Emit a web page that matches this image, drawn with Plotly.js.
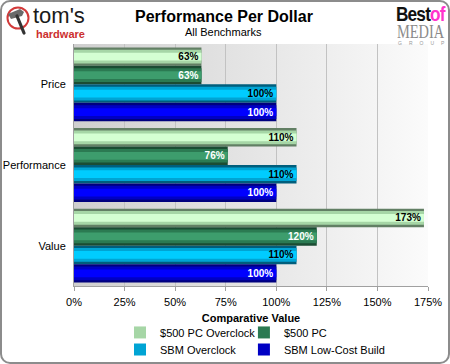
<!DOCTYPE html>
<html><head><meta charset="utf-8">
<script src="https://cdn.plot.ly/plotly-3.0.1.min.js"></script>
<style>
html,body{margin:0;padding:0;background:#fff;width:450px;height:364px;overflow:hidden;font-family:"Liberation Sans",Arial,sans-serif;}
#bg{position:absolute;left:74px;top:44px;width:354px;height:242px;background:linear-gradient(to right,#cfcfcf,#fbfbfb);z-index:0;}
#chart{position:absolute;left:0;top:0;width:450px;height:364px;z-index:1;}
#frame{position:absolute;left:0;top:0;width:446px;height:360px;border:2px solid #8c8c8c;border-radius:10px;z-index:3;pointer-events:none;}
.logo{position:absolute;z-index:2;white-space:nowrap;}
</style></head>
<body>
<div id="bg"></div>
<div id="chart"></div>
<div id="frame"></div>
<svg class="logo" style="left:0;top:0" width="36" height="40" viewBox="0 0 36 40">
  <circle cx="18" cy="18" r="10.5" fill="none" stroke="#d23a3a" stroke-width="2"/>
  <path d="M8,14 L20,9 L24,12 L22,16 L11,19 Z" fill="#6a6a6a"/>
  <line x1="17" y1="16" x2="24" y2="33" stroke="#333" stroke-width="3.2" stroke-linecap="round"/>
</svg>
<div class="logo" style="left:33px;top:6px;font-size:22px;color:#1a1a1a;line-height:19px;">tom's</div>
<div class="logo" style="left:36px;top:29px;font-size:11px;font-weight:bold;color:#cc2f2f;line-height:10px;">hardware</div>
<div class="logo" style="left:396px;top:6px;font-family:'Liberation Sans Narrow','Liberation Sans',Arial;font-size:21px;font-weight:bold;line-height:16px;letter-spacing:-1px;transform:scaleX(0.82);transform-origin:left top;"><span style="color:#111">Best</span><span style="color:#ff33cc">of</span></div>
<div class="logo" style="left:397px;top:26px;font-family:'Liberation Serif','Times New Roman',serif;font-size:18px;color:#8a8a8a;line-height:12px;transform:scaleX(0.8);transform-origin:left top;">MEDIA</div>
<div class="logo" style="left:398px;top:41px;font-size:5px;color:#999;letter-spacing:7px;line-height:5px;">GROUP</div>
<script>
// ---- data ----
const categories = ['Price', 'Performance', 'Value'];
const seriesNames = ['$500 PC Overclock', '$500 PC', 'SBM Overclock', 'SBM Low-Cost Build'];
const oc500Values = [63, 110, 173];
const pc500Values = [63, 76, 120];
const sbmOcValues = [100, 110, 110];
const sbmLowValues = [100, 100, 100];
const tickValues = [0, 25, 50, 75, 100, 125, 150, 175];
const tickLabels = ['0%', '25%', '50%', '75%', '100%', '125%', '150%', '175%'];

// ---- styles ----
const seriesValues = [oc500Values, pc500Values, sbmOcValues, sbmLowValues];
const palettes = [
  {edge: '#627f64', mid: '#a6d6a6', core: '#d4ffd2', text: '#000000'},
  {edge: '#1b4c33', mid: '#2b7a52', core: '#3d9d6d', text: '#ffffff'},
  {edge: '#005e7c', mid: '#00a4d4', core: '#00ccff', text: '#000000'},
  {edge: '#00007e', mid: '#0000c4', core: '#0000ff', text: '#ffffff'}
];
const legendIds = ['legend', 'legend2', 'legend3', 'legend4'];
const legendPos = [[0.130, -0.132], [0.48, -0.132], [0.130, -0.2025], [0.48, -0.2025]];
const barW = 0.229;
const start = -2 * barW;
const layers = [['edge', 1.0], ['mid', 0.74], ['core', 0.42]];

const traces = [];
seriesValues.forEach((vals, i) => {
  const pal = palettes[i];
  const off = start + i * barW;
  layers.forEach(([key, frac]) => {
    const w = barW * frac;
    traces.push({
      type: 'bar', orientation: 'h', y: categories, x: vals,
      name: seriesNames[i], legendgroup: 's' + i, legend: legendIds[i],
      showlegend: key === 'mid',
      width: w, offset: off + (barW - w) / 2,
      marker: {color: pal[key], line: {width: 0}},
      hoverinfo: 'skip'
    });
  });
  traces.push({
    type: 'bar', orientation: 'h', y: categories, x: vals,
    name: seriesNames[i], legendgroup: 's' + i, showlegend: false, legend: legendIds[i],
    width: barW, offset: off,
    marker: {color: 'rgba(0,0,0,0)', line: {width: 0}},
    text: vals.map(v => v + '%'), textposition: 'inside', insidetextanchor: 'end',
    constraintext: 'none',
    textfont: {family: 'Liberation Sans, Arial', size: 10, color: pal.text, weight: 'bold'},
    hoverinfo: 'skip'
  });
});

const layout = {
  width: 450, height: 364,
  margin: {l: 74, r: 22, t: 44, b: 78, autoexpand: false},
  paper_bgcolor: 'rgba(0,0,0,0)', plot_bgcolor: 'rgba(0,0,0,0)',
  barmode: 'overlay',
  font: {family: 'Liberation Sans, Arial, sans-serif', size: 11, color: '#000'},
  xaxis: {
    range: [0, 175], tickvals: tickValues, ticktext: tickLabels,
    showgrid: true, gridcolor: '#c2c2c2', gridwidth: 1,
    ticks: 'outside', ticklen: 4, tickcolor: '#a0a0a0',
    showline: true, linecolor: '#a0a0a0', linewidth: 1,
    zeroline: false, fixedrange: true, ticklabelstandoff: 2, automargin: false,
    title: {text: '<b>Comparative Value</b>', font: {size: 11}, standoff: 7}
  },
  yaxis: {
    autorange: 'reversed', showgrid: false, ticks: '',
    showline: true, linecolor: '#a0a0a0', linewidth: 1,
    ticklabelstandoff: 5, fixedrange: true, automargin: false
  },
  annotations: [
    {text: '<b>Performance Per Dollar</b>', xref: 'paper', yref: 'paper', x: 0.4237, y: 1.1157,
     xanchor: 'center', yanchor: 'middle', showarrow: false, font: {size: 16}},
    {text: 'All Benchmarks', xref: 'paper', yref: 'paper', x: 0.4237, y: 1.0496,
     xanchor: 'center', yanchor: 'middle', showarrow: false, font: {size: 11}}
  ],
  showlegend: true
};
legendIds.forEach((id, i) => {
  layout[id] = {
    x: legendPos[i][0], y: legendPos[i][1], xanchor: 'left', yanchor: 'top',
    orientation: 'h', font: {size: 11}, bgcolor: 'rgba(0,0,0,0)',
    itemclick: false, itemdoubleclick: false
  };
});
Plotly.newPlot('chart', traces, layout, {displayModeBar: false, staticPlot: true});
</script>
</body></html>
